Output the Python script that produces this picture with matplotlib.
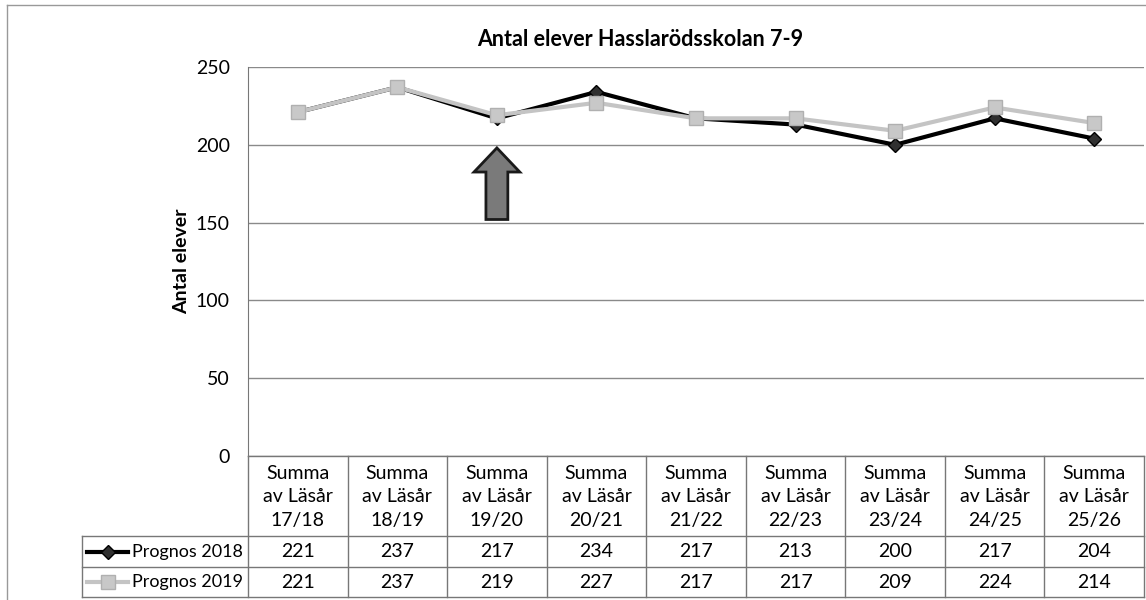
import matplotlib.pyplot as plt
from matplotlib.patches import FancyArrow
from matplotlib.lines import Line2D

plt.rcParams['font.family'] = ['Lato', 'DejaVu Sans']

# data
categories = ["17/18", "18/19", "19/20", "20/21", "21/22", "22/23", "23/24", "24/25", "25/26"]
prognos_2018 = [221, 237, 217, 234, 217, 213, 200, 217, 204]
prognos_2019 = [221, 237, 219, 227, 217, 217, 209, 224, 214]
series_names = ["Prognos 2018", "Prognos 2019"]
y_ticks = [0, 50, 100, 150, 200, 250]

W, H = 1146, 600
fig = plt.figure(figsize=(W / 100, H / 100), dpi=100)

# plot area in pixels
px_left, px_right, px_top, px_bottom = 248, 1144, 67, 456
ax = fig.add_axes([px_left / W, 1 - px_bottom / H, (px_right - px_left) / W, (px_bottom - px_top) / H])

x = list(range(len(categories)))
ax.plot(x, prognos_2018, color='black', lw=3, marker='D', ms=7,
        mfc='#303030', mec='black', zorder=3)
ax.plot(x, prognos_2019, color='#c4c4c4', lw=3, marker='s', ms=10,
        mfc='#c8c8c8', mec='#b0b0b0', zorder=4)

ax.set_xlim(-0.5, len(categories) - 0.5)
ax.set_ylim(0, 250)
ax.set_yticks(y_ticks)
ax.set_xticks([])
ax.tick_params(axis='y', length=0, labelsize=14, pad=13)
ax.grid(axis='y', color='#8a8a8a', lw=1)
for s in ['top', 'right', 'bottom']:
    ax.spines[s].set_visible(False)
ax.spines['left'].set_color('#777777')
ax.set_ylabel("Antal elever", fontsize=14, fontweight='bold', labelpad=4)

# arrow pointing at 19/20
ax.add_patch(FancyArrow(2, 152, 0, 46, width=0.22, head_width=0.46, head_length=15.5,
                        length_includes_head=True, fc='#7a7a7a', ec='#1a1a1a', lw=2, zorder=5))

fig.text(640 / W, 1 - 40 / H, "Antal elever Hasslarödsskolan 7-9", ha='center', va='center',
         fontsize=15.5, fontweight='bold')

# data table in pixel coordinates
tb = fig.add_axes([0, 0, 1, 1])
tb.set_xlim(0, W)
tb.set_ylim(H, 0)
tb.axis('off')

col_w = (px_right - px_left) / len(categories)
line_c = '#777777'
row_lines = [536, 567, 597]
row_centers = [551.5, 582]
leg_left = 82

# outer frame
tb.plot([7, 7], [5, H], color='#999999', lw=1)
tb.plot([7, W], [5, 5], color='#999999', lw=1)

# horizontal table lines
tb.plot([px_left, px_right], [px_bottom, px_bottom], color=line_c, lw=1)
for y in row_lines:
    tb.plot([leg_left, px_right], [y, y], color=line_c, lw=1)
# vertical lines
for i in range(len(categories) + 1):
    xv = px_left + i * col_w
    tb.plot([xv, xv], [px_bottom, row_lines[-1]], color=line_c, lw=1)
tb.plot([leg_left, leg_left], [row_lines[0], row_lines[-1]], color=line_c, lw=1)

for i, cat in enumerate(categories):
    cx = px_left + (i + 0.5) * col_w
    tb.text(cx, 497, "Summa\nav Läsår\n" + cat, ha='center', va='center',
            fontsize=14, linespacing=1.45)
    tb.text(cx, row_centers[0], str(prognos_2018[i]), ha='center', va='center', fontsize=14)
    tb.text(cx, row_centers[1], str(prognos_2019[i]), ha='center', va='center', fontsize=14)

# legend keys
tb.add_line(Line2D([87, 128], [row_centers[0]] * 2, color='black', lw=3))
tb.plot([107.5], [row_centers[0]], marker='D', ms=7, mfc='#303030', mec='black')
tb.add_line(Line2D([87, 128], [row_centers[1]] * 2, color='#c4c4c4', lw=3))
tb.plot([107.5], [row_centers[1]], marker='s', ms=10, mfc='#c8c8c8', mec='#b0b0b0')
tb.text(132, row_centers[0], series_names[0], ha='left', va='center', fontsize=13)
tb.text(132, row_centers[1], series_names[1], ha='left', va='center', fontsize=13)

fig.savefig("out.png", dpi=100)
